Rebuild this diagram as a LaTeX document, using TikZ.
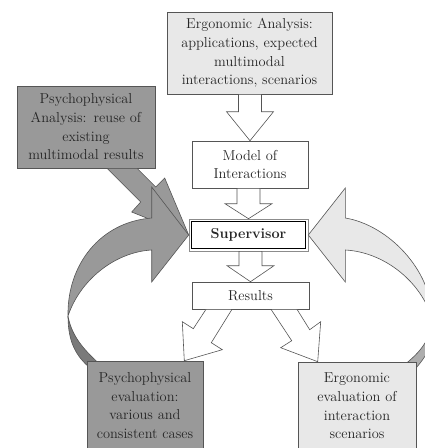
\documentclass[tikz,border=0pt]{standalone}
\usepackage{xcolor}
\usepackage{tikz}
\usetikzlibrary{calc}
\definecolor{darkfill}{HTML}{999999}
\definecolor{darkback}{HTML}{7A7A7A}
\definecolor{lightfill}{HTML}{E8E8E8}
\definecolor{lightback}{HTML}{ADADAD}
\definecolor{edge}{HTML}{555555}

\begin{document}
\begin{tikzpicture}[
        x=1pt, y=-1pt,
        box/.style={draw=edge, line width=0.6pt, inner sep=0pt, align=center,
                    text=black!85, font=\fontsize{14.4}{18.7}\selectfont},
        darkbox/.style={box, fill=darkfill},
        lightbox/.style={box, fill=lightfill},
        whitebox/.style={box, fill=white},
        blockarrow/.style={draw=edge, fill=white, line width=0.6pt, line join=miter},
        darkarrow/.style={blockarrow, fill=darkfill},
        lightarrow/.style={blockarrow, fill=lightfill}
    ]
    \useasboundingbox (0,0) rectangle (425,448);
    \clip (0,0) rectangle (425,448);

    % boxes
    \node[lightbox, text width=165pt, minimum height=82pt] (ea) at (249.5,53)
        {Ergonomic Analysis:\\applications, expected\\multimodal\\interactions, scenarios};
    \node[darkbox, text width=138pt, minimum height=82pt] (pa) at (86,127)
        {Psychophysical\\Analysis: reuse of\\existing\\multimodal results};
    \node[whitebox, text width=116pt, minimum height=47pt] (moi) at (250,164.5)
        {Model of\\Interactions};
    \node[whitebox, draw=black!45, text width=119pt, minimum height=32pt] (sup) at (248.5,235)
        {\bfseries Supervisor};
    \draw[black, line width=0.9pt] ($(sup.north west)+(3,3)$) rectangle ($(sup.south east)+(-3,-3)$);
    \node[whitebox, text width=117pt, minimum height=27pt] (res) at (250.5,295.5)
        {Results};

    % straight arrows down the middle
    \foreach \a/\b/\h in {ea/moi/29, moi/sup/15, sup/res/16} {
        \path (\b.north) coordinate (tip) (\a.south -| tip) coordinate (base);
        \draw[blockarrow] ($(base)+(-11.5,0)$) -- ($(tip)+(-11.5,-\h)$) -- ($(tip)+(-23.5,-\h)$)
            -- (tip) -- ($(tip)+(23.5,-\h)$) -- ($(tip)+(11.5,-\h)$) -- ($(base)+(11.5,0)$) -- cycle;
    }

    % reuse of results into the supervisor
    \coordinate (lt) at (sup.west);
    \draw[darkarrow] ($(pa.south)+(21,0)$) -- ($(lt)+(-48,-33)$) -- ($(lt)+(-57,-23)$) -- (lt)
        -- ($(lt)+(-24,-57)$) -- ($(lt)+(-33,-48)$) -- ($(pa.south)+(51,0)$) -- cycle;

    % evaluation loops
    \draw[blockarrow, fill=darkback] (68,316) .. controls (68,342) and (76,356) .. (90,368)
        -- (104,368) .. controls (86,352) and (72,338) .. (68,316) -- cycle;
    \draw[darkarrow] (lt) -- ++(-37,-48) -- ++(0,31) .. controls (100,222) and (67,265) .. (68,316)
        .. controls (80,280) and (115,252) .. ($(lt)+(-37,15)$) -- ++(0,32) -- cycle;

    \coordinate (rt) at (sup.east);
    \draw[blockarrow, fill=lightback] (432,318) .. controls (432,340) and (418,355) .. (400,368)
        -- (416,368) .. controls (430,352) and (436,338) .. (432,318) -- cycle;
    \draw[lightarrow] (rt) -- ++(37,-47) -- ++(0,30) .. controls (388,225) and (432,270) .. (432,318)
        .. controls (420,280) and (383,252) .. ($(rt)+(37,15)$) -- ++(0,32) -- cycle;

    \node[darkbox, text width=116pt, minimum height=89pt] (pe) at (145,405.5)
        {Psychophysical\\evaluation:\\various and\\consistent cases};
    \node[lightbox, text width=118pt, minimum height=88pt] (ee) at (357,406)
        {Ergonomic\\evaluation of\\interaction\\scenarios};

    % results split to both evaluations
    \coordinate (lp) at ($(pe.north east)+(-19,0)$);
    \draw[blockarrow] ($(res.south)+(-44.5,0)$) -- ($(lp)+(9,-32)$) -- ($(lp)+(-2,-39)$) -- (lp)
        -- ($(lp)+(38,-11)$) -- ($(lp)+(27,-18)$) -- ($(res.south)+(-18.5,0)$) -- cycle;
    \coordinate (rp) at ($(ee.north west)+(20,0)$);
    \draw[blockarrow] ($(res.south)+(20.5,0)$) -- ($(rp)+(-26,-21)$) -- ($(rp)+(-37,-14)$) -- (rp)
        -- ($(rp)+(3,-40)$) -- ($(rp)+(-8,-32)$) -- ($(res.south)+(46.5,0)$) -- cycle;
\end{tikzpicture}
\end{document}
